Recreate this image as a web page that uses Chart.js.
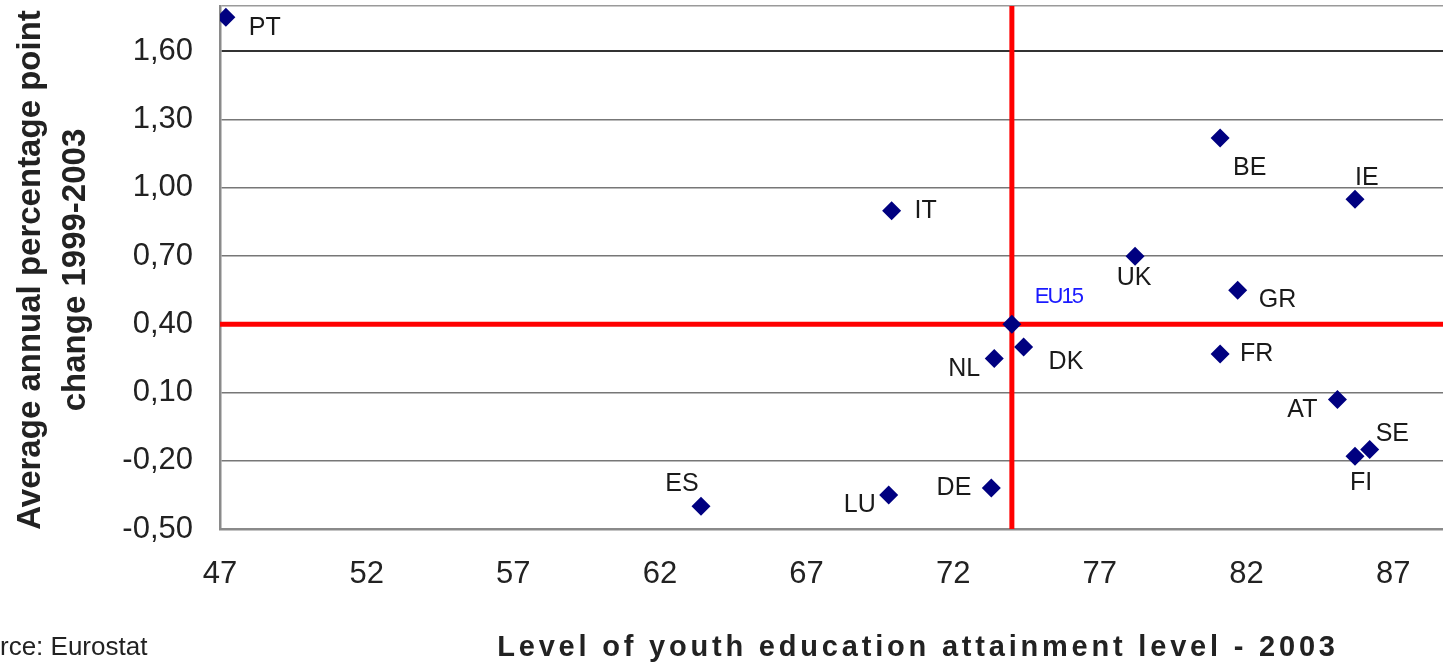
<!DOCTYPE html>
<html>
<head>
<meta charset="utf-8">
<script src="https://cdn.jsdelivr.net/npm/chart.js@4.4.1/dist/chart.umd.min.js"></script>
<style>
  html, body { margin: 0; padding: 0; background: #ffffff; }
  #wrap { width: 1443px; height: 667px; }
</style>
</head>
<body>
<div id="wrap"><canvas id="c" width="1443" height="667"></canvas></div>
<script>
// ---- data ----
const countries  = ['PT','BE','IE','IT','UK','GR','EU15','DK','NL','FR','AT','SE','FI','DE','LU','ES'];
const attainment = [47.2, 81.1, 85.7, 69.9, 78.2, 81.7, 74.0, 74.4, 73.4, 81.1, 85.1, 86.2, 85.7, 73.3, 69.8, 63.4];
const change     = [1.75, 1.22, 0.95, 0.90, 0.70, 0.55, 0.40, 0.30, 0.25, 0.27, 0.07, -0.15, -0.18, -0.32, -0.35, -0.40];
const xTicks = [47, 52, 57, 62, 67, 72, 77, 82, 87];
const yTicks = [-0.50, -0.20, 0.10, 0.40, 0.70, 1.00, 1.30, 1.60];
const euAvgX = 74.0;
const euAvgY = 0.40;
const xTitle = 'Level of youth education attainment level - 2003';
const yTitle = ['Average annual percentage point', 'change 1999-2003'];
const sourceText = 'Source: Eurostat';

// ---- axis ranges ----
const xMin = 47, xMax = 88.7, yMin = -0.5, yMax = 1.8;

// ---- label placement (style only) ----
const labelPlace = {
  PT:{dx:23,dy:11,a:'left'}, BE:{dx:13,dy:30,a:'left'}, IE:{dx:0,dy:-21,a:'left'},
  IT:{dx:23,dy:0,a:'left'}, UK:{dx:-1,dy:22,a:'center'}, GR:{dx:21,dy:10,a:'left'},
  EU15:{dx:23,dy:-27,a:'left'}, DK:{dx:25,dy:15,a:'left'}, NL:{dx:-14,dy:11,a:'right'},
  FR:{dx:20,dy:0,a:'left'}, AT:{dx:-20,dy:11,a:'right'}, SE:{dx:6,dy:-15,a:'left'},
  FI:{dx:6,dy:27,a:'center'}, DE:{dx:-20,dy:0,a:'right'}, LU:{dx:-13,dy:10,a:'right'},
  ES:{dx:-19,dy:-22,a:'center'}
};

const FONT = '"Liberation Sans", Arial, sans-serif';
const fmt = v => v.toFixed(2).replace('.', ',');

const points = countries.map((c, i) => ({x: attainment[i], y: change[i]}));

const decor = {
  id: 'decor',
  afterDatasetsDraw(chart) {
    const ctx = chart.ctx;
    const meta = chart.getDatasetMeta(0);
    ctx.save();
    ctx.textBaseline = 'middle';
    meta.data.forEach((el, i) => {
      const c = countries[i];
      const p = labelPlace[c];
      ctx.textAlign = p.a;
      if (c === 'EU15') {
        ctx.fillStyle = '#1a1aff';
        ctx.font = '22px ' + FONT;
        ctx.letterSpacing = '-2px';
      } else {
        ctx.fillStyle = '#1a1a1a';
        ctx.font = '25px ' + FONT;
        ctx.letterSpacing = '0px';
      }
      ctx.fillText(c, el.x + p.dx, el.y + p.dy);
    });
    ctx.restore();
  },
  afterDraw(chart) {
    const ctx = chart.ctx;
    ctx.save();
    ctx.fillStyle = '#222';
    // y title (two lines, rotated)
    ctx.font = 'bold 33px ' + FONT;
    ctx.textAlign = 'center';
    ctx.textBaseline = 'middle';
    ctx.save();
    ctx.translate(31, 270);
    ctx.rotate(-Math.PI / 2);
    ctx.fillText(yTitle[0], 0, 0);
    ctx.restore();
    ctx.save();
    ctx.translate(76, 270);
    ctx.rotate(-Math.PI / 2);
    ctx.fillText(yTitle[1], 0, 0);
    ctx.restore();
    // x title
    ctx.font = 'bold 29px ' + FONT;
    ctx.letterSpacing = '3.8px';
    ctx.fillText(xTitle, 918, 648);
    // source
    ctx.letterSpacing = '0px';
    ctx.font = '26px ' + FONT;
    ctx.textAlign = 'left';
    const cut = ctx.measureText('Sou').width;
    ctx.fillText(sourceText, -cut, 648);
    ctx.restore();
  }
};

const zeroPad = s => { s.paddingLeft = 0; s.paddingRight = 0; s.paddingTop = 0; s.paddingBottom = 0; };

new Chart(document.getElementById('c'), {
  data: {
    datasets: [
      {
        type: 'scatter',
        data: points,
        pointStyle: 'rectRot',
        pointRadius: 9.5,
        pointHoverRadius: 9.5,
        backgroundColor: '#000080',
        borderColor: '#000080',
        borderWidth: 0,
        order: 0
      },
      {
        type: 'line',
        data: [{x: euAvgX, y: yMin}, {x: euAvgX, y: yMax}],
        borderColor: '#ff0000',
        borderWidth: 5,
        pointRadius: 0,
        fill: false,
        order: 1
      },
      {
        type: 'line',
        data: [{x: xMin, y: euAvgY}, {x: xMax, y: euAvgY}],
        borderColor: '#ff0000',
        borderWidth: 5,
        pointRadius: 0,
        fill: false,
        order: 1
      }
    ]
  },
  options: {
    responsive: false,
    animation: false,
    devicePixelRatio: 1,
    layout: { autoPadding: false, padding: { top: 6, right: 0, left: 0, bottom: 0 } },
    plugins: { legend: { display: false }, tooltip: { enabled: false } },
    scales: {
      x: {
        type: 'linear',
        min: xMin, max: xMax,
        afterBuildTicks: s => { s.ticks = xTicks.map(v => ({value: v})); },
        afterFit: s => { s.height = 138; zeroPad(s); },
        grid: { color: 'rgba(0,0,0,0)', drawTicks: false },
        border: { display: true, color: '#8a8a8a', width: 2.5 },
        ticks: {
          padding: 27,
          color: '#222',
          font: { family: FONT, size: 31 },
          maxRotation: 0,
          callback: v => String(v)
        }
      },
      y: {
        type: 'linear',
        min: yMin, max: yMax,
        afterBuildTicks: s => { s.ticks = yTicks.concat([yMax]).map(v => ({value: v})); },
        afterFit: s => { s.width = 220; zeroPad(s); },
        grid: {
          color: c => {
            const v = c.tick ? c.tick.value : 0;
            if (Math.abs(v - yMax) < 1e-9) return '#9a9a9a';
            if (Math.abs(v - 1.6) < 1e-9) return '#333';
            return '#777';
          },
          lineWidth: c => (c.tick && Math.abs(c.tick.value - 1.6) < 1e-9 ? 2 : 1.5),
          drawTicks: false
        },
        border: { display: true, color: '#8a8a8a', width: 2.5 },
        ticks: {
          padding: 27,
          color: '#222',
          font: { family: FONT, size: 31 },
          callback: v => (Math.abs(v - yMax) < 1e-9 ? '' : fmt(v))
        }
      }
    }
  },
  plugins: [decor]
});
</script>
</body>
</html>
